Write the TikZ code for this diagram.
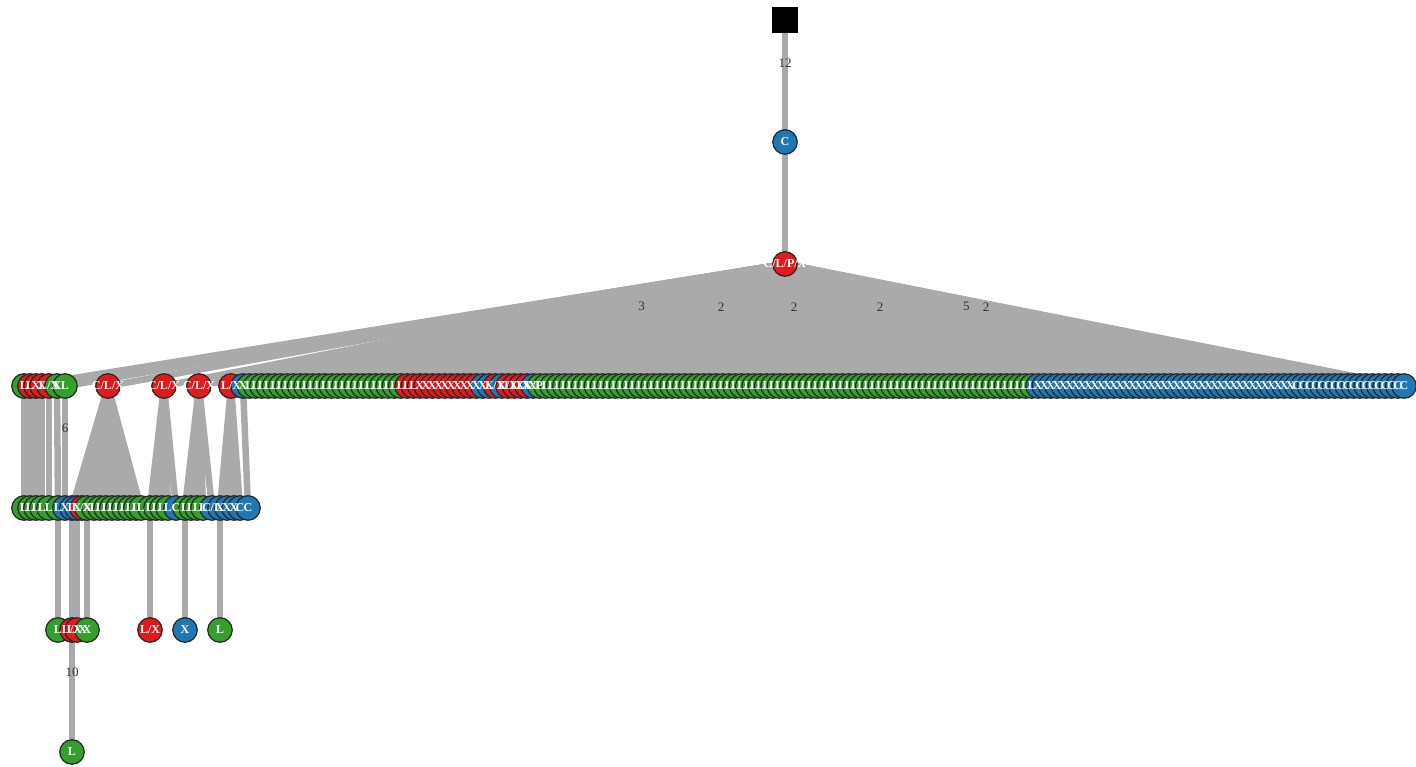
\documentclass[tikz,border=0pt]{standalone}
\usepackage{fontspec}
\setmainfont{Liberation Serif}
\usetikzlibrary{backgrounds}
\pgfdeclarelayer{front}
\pgfsetlayers{background,main,front}
\definecolor{vgreen}{RGB}{51,160,44}
\definecolor{vred}{RGB}{227,26,28}
\definecolor{vblue}{RGB}{31,120,180}
\definecolor{edgegray}{RGB}{170,170,170}

\begin{document}
\begin{tikzpicture}[x=1pt, y=-1pt,
    vertex/.style={circle, draw=black!85, line width=1.2pt, minimum size=24.5pt, inner sep=0pt},
    tag/.style={text=white, font=\fontsize{12}{12}\selectfont\bfseries, inner sep=0pt},
    link/.style={draw=edgegray, line width=6.5pt},
    weight/.style={font=\fontsize{13}{13}\selectfont, text=black!80, inner sep=0pt}
  ]
  \useasboundingbox (0,0) rectangle (1416,767);
  \node[fill=black, minimum size=26pt, inner sep=0pt] (root) at (785,20) {};
  \node[vertex, fill=vblue] (c) at (785,142) {};
  \node[vertex, fill=vred] (clpx) at (785,264) {};
  \begin{pgfonlayer}{front}
    \node[tag] at (c) {C};
    \node[tag] at (clpx) {C/L/P/X};
  \end{pgfonlayer}
  \begin{pgfonlayer}{background}
    \draw[link] (root.center) -- (c.center);
    \draw[link] (c.center) -- (clpx.center);
  \end{pgfonlayer}
  \foreach \x/\c/\t [count=\k] in {24/green/L, 30/red/L, 36/red/X, 42/red/X, 49/red/{L/X}, 57/green/X, 65/green/L,
      108/red/{C/L/X}, 164/red/{C/L/X}, 199/red/{C/L/X}, 231/red/{L/X}} {
    \node[vertex, fill=v\c] (l3-\k) at (\x,386) {};
    \begin{pgfonlayer}{front}\node[tag] at (l3-\k) {\t};\end{pgfonlayer}
    \begin{pgfonlayer}{background}\draw[link] (clpx.center) -- (l3-\k.center);\end{pgfonlayer}
  }
  \foreach \a/\b/\c/\t in {0/0/blue/X, 1/25/green/L, 26/27/red/L, 28/37/red/X, 38/39/blue/X, 40/40/red/{L/X},
      41/41/blue/X, 42/45/red/{L/X}, 46/46/blue/{X/P}, 47/125/green/L, 126/166/blue/X, 167/184/blue/C}
    \foreach \i in {\a,...,\b} {
      \node[vertex, fill=v\c] (r3-\i) at ({243+6.31*\i},386) {};
      \begin{pgfonlayer}{front}\node[tag] at (r3-\i) {\t};\end{pgfonlayer}
      \begin{pgfonlayer}{background}\draw[link] (clpx.center) -- (r3-\i.center);\end{pgfonlayer}
    }
  \foreach \x/\c/\t/\p [count=\k] in {24/green/L/l3-1, 30/green/L/l3-2, 36/green/L/l3-3, 42/green/L/l3-4,
      49/green/L/l3-5, 58/green/L/l3-6, 65/blue/X/l3-7, 72/blue/L/l3-8, 77/blue/X/l3-8, 82/red/{L/X}/l3-8,
      87/green/X/l3-8, 94/green/L/l3-8, 100/green/L/l3-8, 106/green/L/l3-8, 112/green/L/l3-8, 118/green/L/l3-8,
      124/green/L/l3-8, 130/green/L/l3-8, 136/green/L/l3-8, 141/green/L/l3-8, 150/green/L/l3-9, 156/green/L/l3-9,
      162/green/L/l3-9, 168/green/L/l3-9, 176/blue/C/l3-9, 185/green/L/l3-10, 191/green/L/l3-10, 197/green/L/l3-10,
      203/green/L/l3-10, 212/blue/{C/L}/l3-10, 220/blue/X/l3-11, 227/blue/X/l3-11, 234/blue/X/l3-11,
      240/blue/C/l3-11, 248/blue/C/r3-0} {
    \node[vertex, fill=v\c] (l4-\k) at (\x,508) {};
    \begin{pgfonlayer}{front}\node[tag] at (l4-\k) {\t};\end{pgfonlayer}
    \begin{pgfonlayer}{background}\draw[link] (\p.center) -- (l4-\k.center);\end{pgfonlayer}
  }
  \foreach \x/\c/\t/\p [count=\k] in {58/green/L/l4-6, 72/red/{L/X}/l4-8, 77/red/{L/X}/l4-9, 87/green/X/l4-11,
      150/red/{L/X}/l4-21, 185/blue/X/l4-26, 220/green/L/l4-31} {
    \node[vertex, fill=v\c] (l5-\k) at (\x,630) {};
    \begin{pgfonlayer}{front}\node[tag] at (l5-\k) {\t};\end{pgfonlayer}
    \begin{pgfonlayer}{background}\draw[link] (\p.center) -- (l5-\k.center);\end{pgfonlayer}
  }
  \node[vertex, fill=vgreen] (l6-1) at (72,752) {};
  \begin{pgfonlayer}{front}
    \node[tag] at (l6-1) {L};
    \path (root.center) -- (c.center) node[weight, pos=0.35] {12};
    \foreach \i/\w in {21/3, 57/2, 90/2, 129/2, 168/5, 177/2}
      \path (clpx.center) -- (r3-\i.center) node[weight, pos=0.35] {\w};
    \path (l3-7.center) -- (l4-7.center) node[weight, pos=0.35] {6};
    \path (l5-2.center) -- (l6-1.center) node[weight, pos=0.35] {10};
  \end{pgfonlayer}
  \begin{pgfonlayer}{background}
    \draw[link] (l5-2.center) -- (l6-1.center);
  \end{pgfonlayer}
\end{tikzpicture}
\end{document}
